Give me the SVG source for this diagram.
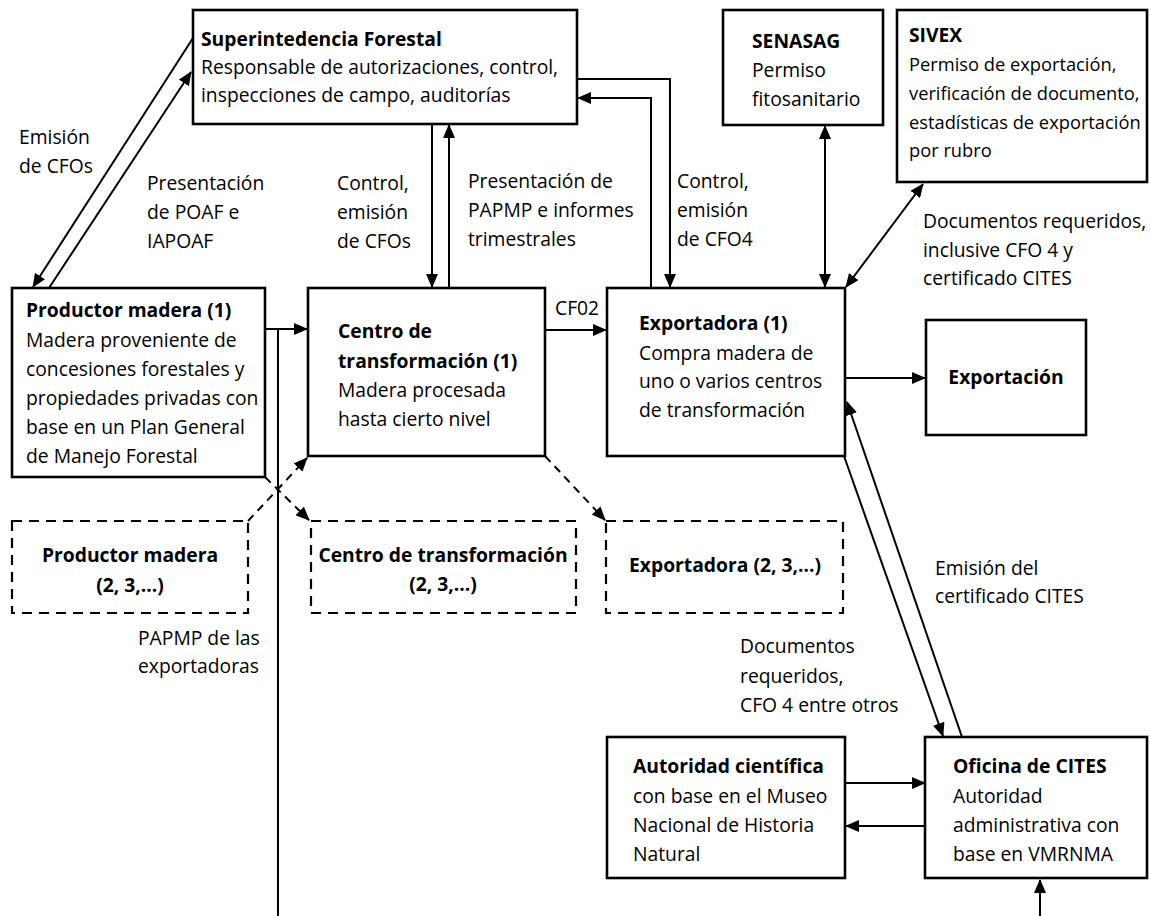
<svg xmlns="http://www.w3.org/2000/svg" width="1150" height="916" viewBox="0 0 1150 916">
<style>
text{font-family:"Open Sans","Noto Sans","Liberation Sans",sans-serif;font-size:19.3px;fill:#000}
.b{font-weight:700}
.m{text-anchor:middle}
.s{font-size:18.3px}
.box{fill:#fff;stroke:#000;stroke-width:2.6}
.dbox{fill:#fff;stroke:#000;stroke-width:2.2;stroke-dasharray:10 7}
.ln{fill:none;stroke:#000;stroke-width:2}
.dl{fill:none;stroke:#000;stroke-width:2;stroke-dasharray:8 6}
</style>
<defs>
<marker id="ah" markerUnits="userSpaceOnUse" markerWidth="14" markerHeight="12" refX="13" refY="6" orient="auto-start-reverse" viewBox="0 0 14 12">
<path d="M0,0 L14,6 L0,12 z" fill="#000"/>
</marker>
</defs>
<rect width="1150" height="916" fill="#fff"/>

<g id="connectors">
<line class="ln" x1="193" y1="38" x2="33" y2="287" marker-end="url(#ah)"/>
<line class="ln" x1="49" y1="288" x2="191" y2="72" marker-end="url(#ah)"/>
<line class="ln" x1="432" y1="124" x2="432" y2="287" marker-end="url(#ah)"/>
<line class="ln" x1="449" y1="288" x2="449" y2="125" marker-end="url(#ah)"/>
<polyline class="ln" points="577,79 670,79 670,287" marker-end="url(#ah)"/>
<polyline class="ln" points="651,288 651,98 578,98" marker-end="url(#ah)"/>
<line class="ln" x1="825" y1="126" x2="825" y2="287" marker-start="url(#ah)" marker-end="url(#ah)"/>
<line class="ln" x1="923" y1="184" x2="846" y2="287" marker-start="url(#ah)" marker-end="url(#ah)"/>
<line class="ln" x1="265" y1="329" x2="307" y2="329" marker-end="url(#ah)"/>
<line class="ln" x1="278" y1="329" x2="278" y2="916"/>
<line class="ln" x1="545" y1="330" x2="606" y2="330" marker-end="url(#ah)"/>
<line class="ln" x1="845" y1="378" x2="925" y2="378" marker-end="url(#ah)"/>
<line class="ln" x1="962" y1="737" x2="847" y2="402" marker-end="url(#ah)"/>
<line class="ln" x1="844" y1="456" x2="943" y2="736" marker-end="url(#ah)"/>
<line class="ln" x1="845" y1="783" x2="925" y2="783" marker-end="url(#ah)"/>
<line class="ln" x1="925" y1="826" x2="846" y2="826" marker-end="url(#ah)"/>
<line class="ln" x1="1040" y1="916" x2="1040" y2="880" marker-end="url(#ah)"/>
<line class="dl" x1="248" y1="521" x2="307" y2="458" marker-end="url(#ah)"/>
<line class="dl" x1="265" y1="477" x2="309" y2="520" marker-end="url(#ah)"/>
<line class="dl" x1="545" y1="456" x2="605" y2="520" marker-end="url(#ah)"/>
<text x="19" y="144">Emisión</text>
<text x="19" y="173">de CFOs</text>
<text x="147" y="190">Presentación</text>
<text x="147" y="219">de POAF e</text>
<text x="147" y="248">IAPOAF</text>
<text x="337" y="190">Control,</text>
<text x="337" y="219">emisión</text>
<text x="337" y="248">de CFOs</text>
<text x="468" y="188">Presentación de</text>
<text x="468" y="217">PAPMP e informes</text>
<text x="468" y="246">trimestrales</text>
<text x="677" y="188">Control,</text>
<text x="677" y="217">emisión</text>
<text x="677" y="246">de CFO4</text>
<text x="923" y="228">Documentos requeridos,</text>
<text x="923" y="257">inclusive CFO 4 y</text>
<text x="923" y="285">certificado CITES</text>
<text x="555" y="315">CF02</text>
<text x="138" y="645">PAPMP de las</text>
<text x="138" y="673">exportadoras</text>
<text x="935" y="575">Emisión del</text>
<text x="935" y="603">certificado CITES</text>
<text x="740" y="653">Documentos</text>
<text x="740" y="683">requeridos,</text>
<text x="740" y="712">CFO 4 entre otros</text>
</g>

<g id="superintendencia">
<rect class="box" x="193" y="10" width="384" height="114"/>
<text class="b" x="201" y="46">Superintedencia Forestal</text>
<text x="201" y="74">Responsable de autorizaciones, control,</text>
<text x="201" y="102">inspecciones de campo, auditorías</text>
</g>

<g id="senasag">
<rect class="box" x="723" y="10" width="160" height="115"/>
<text class="b" x="752" y="48">SENASAG</text>
<text x="752" y="77">Permiso</text>
<text x="752" y="106">fitosanitario</text>
</g>

<g id="sivex">
<rect class="box" x="897" y="10" width="250" height="172"/>
<text class="b" x="909" y="42">SIVEX</text>
<text class="s" x="909" y="71">Permiso de exportación,</text>
<text class="s" x="909" y="100">verificación de documento,</text>
<text class="s" x="909" y="129">estadísticas de exportación</text>
<text class="s" x="909" y="157">por rubro</text>
</g>

<g id="productor1">
<rect class="box" x="12" y="288" width="253" height="189"/>
<text class="b" x="26" y="317">Productor madera (1)</text>
<text x="26" y="347">Madera proveniente de</text>
<text x="26" y="376">concesiones forestales y</text>
<text x="26" y="405">propiedades privadas con</text>
<text x="26" y="434">base en un Plan General</text>
<text x="26" y="463">de Manejo Forestal</text>
</g>

<g id="centro1">
<rect class="box" x="308" y="288" width="237" height="168"/>
<text class="b" x="338" y="338">Centro de</text>
<text class="b" x="338" y="368">transformación (1)</text>
<text x="338" y="397">Madera procesada</text>
<text x="338" y="426">hasta cierto nivel</text>
</g>

<g id="exportadora1">
<rect class="box" x="607" y="288" width="238" height="168"/>
<text class="b" x="639" y="330">Exportadora (1)</text>
<text x="639" y="360">Compra madera de</text>
<text x="639" y="388">uno o varios centros</text>
<text x="639" y="417">de transformación</text>
</g>

<g id="exportacion">
<rect class="box" x="926" y="320" width="160" height="115"/>
<text class="b m" x="1006" y="384">Exportación</text>
</g>

<g id="productor-n">
<rect class="dbox" x="12" y="521" width="236" height="92"/>
<text class="b m" x="130" y="562">Productor madera</text>
<text class="b m" x="130" y="592">(2, 3,...)</text>
</g>

<g id="centro-n">
<rect class="dbox" x="311" y="521" width="265" height="92"/>
<text class="b m" x="443" y="562">Centro de transformación</text>
<text class="b m" x="443" y="591">(2, 3,...)</text>
</g>

<g id="exportadora-n">
<rect class="dbox" x="606" y="521" width="237" height="92"/>
<text class="b m" x="725" y="572">Exportadora (2, 3,...)</text>
</g>

<g id="autoridad">
<rect class="box" x="607" y="737" width="238" height="141"/>
<text class="b" x="633" y="773">Autoridad científica</text>
<text x="633" y="803">con base en el Museo</text>
<text x="633" y="832">Nacional de Historia</text>
<text x="633" y="861">Natural</text>
</g>

<g id="oficina-cites">
<rect class="box" x="925" y="737" width="222" height="141"/>
<text class="b" x="953" y="773">Oficina de CITES</text>
<text x="953" y="803">Autoridad</text>
<text x="953" y="832">administrativa con</text>
<text x="953" y="861">base en VMRNMA</text>
</g>
</svg>
